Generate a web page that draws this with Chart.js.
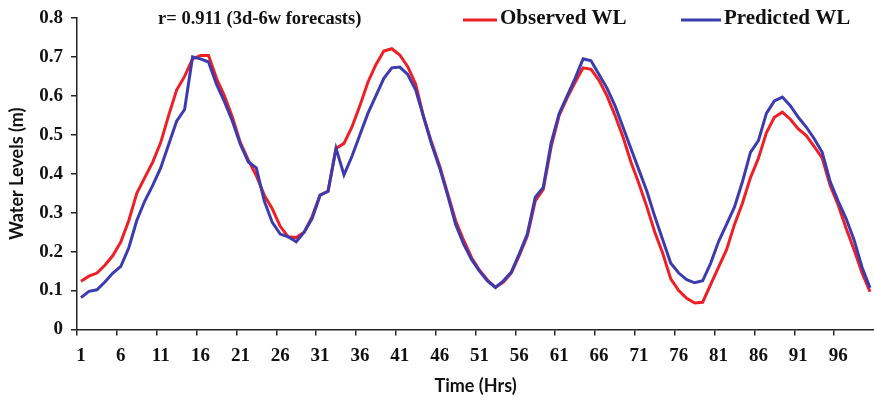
<!DOCTYPE html>
<html><head><meta charset="utf-8">
<script src="https://cdn.jsdelivr.net/npm/chart.js@4/dist/chart.umd.min.js"></script>
<style>html,body{margin:0;padding:0;background:#fff}#wrap{width:874px;height:404px}</style>
</head><body><div id="wrap"><canvas id="c" width="874" height="404"></canvas></div>
<script>
const hours = [1,2,3,4,5,6,7,8,9,10,11,12,13,14,15,16,17,18,19,20,21,22,23,24,25,26,27,28,29,30,31,32,33,34,35,36,37,38,39,40,41,42,43,44,45,46,47,48,49,50,51,52,53,54,55,56,57,58,59,60,61,62,63,64,65,66,67,68,69,70,71,72,73,74,75,76,77,78,79,80,81,82,83,84,85,86,87,88,89,90,91,92,93,94,95,96,97,98,99,100];
const observedWL = [0.124,0.137,0.145,0.165,0.19,0.225,0.28,0.35,0.39,0.43,0.48,0.55,0.615,0.65,0.695,0.704,0.704,0.645,0.60,0.545,0.48,0.435,0.395,0.345,0.31,0.265,0.238,0.236,0.25,0.29,0.345,0.355,0.465,0.478,0.52,0.575,0.635,0.68,0.715,0.721,0.705,0.675,0.63,0.545,0.48,0.42,0.35,0.28,0.23,0.185,0.152,0.127,0.108,0.122,0.145,0.19,0.24,0.33,0.36,0.47,0.55,0.595,0.635,0.672,0.668,0.64,0.60,0.55,0.495,0.43,0.375,0.315,0.25,0.195,0.13,0.10,0.08,0.068,0.07,0.115,0.16,0.205,0.27,0.325,0.39,0.44,0.505,0.545,0.558,0.54,0.515,0.498,0.47,0.44,0.37,0.32,0.26,0.205,0.145,0.097];
const predictedWL = [0.082,0.098,0.102,0.122,0.145,0.162,0.21,0.28,0.33,0.37,0.415,0.475,0.535,0.565,0.70,0.695,0.687,0.63,0.585,0.535,0.475,0.43,0.415,0.33,0.275,0.245,0.238,0.225,0.25,0.285,0.345,0.355,0.465,0.397,0.445,0.50,0.555,0.60,0.645,0.672,0.674,0.655,0.615,0.545,0.475,0.415,0.345,0.27,0.22,0.18,0.15,0.125,0.108,0.125,0.148,0.195,0.245,0.34,0.365,0.48,0.555,0.60,0.645,0.695,0.69,0.655,0.62,0.575,0.52,0.465,0.41,0.355,0.29,0.23,0.17,0.145,0.128,0.12,0.125,0.17,0.226,0.27,0.315,0.38,0.455,0.485,0.555,0.587,0.597,0.575,0.545,0.52,0.49,0.455,0.38,0.33,0.285,0.23,0.16,0.107];
const xLabelEvery = 5;
const yTickValues = [0,0.1,0.2,0.3,0.4,0.5,0.6,0.7,0.8];
const yTickLabels = ['0','0.1','0.2','0.3','0.4','0.5','0.6','0.7','0.8'];
const seriesNames = ['Observed WL','Predicted WL'];
const seriesColors = ['#ee2026','#3c3cb0'];
const annotationText = 'r= 0.911 (3d-6w forecasts)';
const xTitle = 'Time (Hrs)';
const yTitle = 'Water Levels (m)';

const serif = '"Liberation Serif", "Times New Roman", serif';
const sans = 'Lato, "Liberation Sans", sans-serif';

const overlay = {
  id: 'overlay',
  afterDraw(chart) {
    const ctx = chart.ctx;
    ctx.save();
    ctx.textBaseline = 'middle';
    ctx.fillStyle = '#111';
    ctx.font = 'bold 18.5px ' + serif;
    ctx.fillText(annotationText, 158, 19);
    const items = [[463, 497, 500], [681, 721, 724]];
    ctx.font = 'bold 21px ' + serif;
    items.forEach((it, k) => {
      ctx.strokeStyle = seriesColors[k];
      ctx.lineWidth = 3;
      ctx.beginPath();
      ctx.moveTo(it[0], 20);
      ctx.lineTo(it[1], 20);
      ctx.stroke();
      ctx.fillStyle = '#111';
      ctx.fillText(seriesNames[k], it[2], 19);
    });
    ctx.restore();
  }
};

new Chart(document.getElementById('c'), {
  type: 'line',
  data: {
    labels: hours.map(String),
    datasets: [
      { label: seriesNames[0], data: observedWL,
        borderColor: seriesColors[0], borderWidth: 3, pointRadius: 0, fill: false, tension: 0, order: 2 },
      { label: seriesNames[1], data: predictedWL,
        borderColor: seriesColors[1], borderWidth: 3, pointRadius: 0, fill: false, tension: 0, order: 1 }
    ]
  },
  options: {
    responsive: false,
    animation: false,
    devicePixelRatio: 1,
    layout: { padding: { left: 0, right: 0, top: 18, bottom: 0 } },
    plugins: { legend: { display: false }, tooltip: { enabled: false } },
    scales: {
      x: {
        type: 'category', offset: true,
        afterFit: s => { s.height = 74.5; s.paddingLeft = 0; s.paddingRight = 0; },
        ticks: {
          callback: (v, i) => (i % xLabelEvery === 0 ? String(hours[i]) : ''),
          font: { family: serif, weight: 'bold', size: 19 },
          color: '#111', padding: 9, maxRotation: 0, minRotation: 0, autoSkip: false
        },
        grid: { offset: true, drawOnChartArea: false, drawTicks: true, tickLength: 6, lineWidth: 1.5,
          color: '#222',
          tickColor: c => (c.index % xLabelEvery === 0 ? '#222' : 'rgba(0,0,0,0)') },
        border: { color: '#222', width: 1.5 },
        title: { display: true, text: xTitle, color: '#111',
          font: { family: sans, weight: 'bold', size: 18 }, padding: { top: 4, bottom: 7 } }
      },
      y: {
        min: 0, max: 0.8,
        afterBuildTicks: s => { s.ticks = yTickValues.map(v => ({ value: v })); },
        afterFit: s => { s.width = 77; s.paddingTop = 0; s.paddingBottom = 0; },
        ticks: {
          callback: (v, i) => yTickLabels[i],
          font: { family: serif, weight: 'bold', size: 19 },
          color: '#111', padding: 8
        },
        grid: { drawOnChartArea: false, drawTicks: true, tickLength: 6, color: '#222', lineWidth: 1.5 },
        border: { color: '#222', width: 1.5 },
        title: { display: true, text: yTitle, color: '#111',
          font: { family: sans, weight: 'bold', size: 18 }, padding: { top: 6, bottom: 4 } }
      }
    }
  },
  plugins: [overlay]
});
</script>
</body></html>
